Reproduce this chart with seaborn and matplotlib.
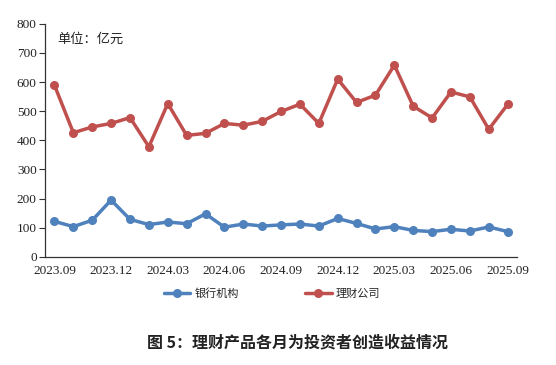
import pandas as pd
import seaborn as sns
import matplotlib.pyplot as plt

# monthly values, 2023.09 - 2025.09 (亿元)
months = ['2023.09', '2023.10', '2023.11', '2023.12', '2024.01', '2024.02', '2024.03',
          '2024.04', '2024.05', '2024.06', '2024.07', '2024.08', '2024.09', '2024.10',
          '2024.11', '2024.12', '2025.01', '2025.02', '2025.03', '2025.04', '2025.05',
          '2025.06', '2025.07', '2025.08', '2025.09']
bank = [122, 104, 126, 195, 129, 111, 120, 114, 148, 102, 113, 106, 110,
        113, 106, 132, 115, 96, 104, 91, 87, 95, 89, 103, 87]
wm_company = [589, 426, 446, 458, 478, 378, 526, 417, 424, 458, 452, 465, 499,
              524, 458, 610, 530, 555, 658, 517, 477, 566, 549, 438, 523]
series_names = ['银行机构', '理财公司']
tick_labels = months[::3]

df = pd.DataFrame({
    'idx': list(range(len(months))) * 2,
    'value': bank + wm_company,
    'series': [series_names[0]] * len(months) + [series_names[1]] * len(months),
})

sns.set_style('ticks')
plt.rcParams['font.family'] = ['Noto Sans CJK SC', 'DejaVu Sans']

fig = plt.figure(figsize=(5.56, 3.65), dpi=100)
ax = fig.add_axes([0.081, 0.296, 0.849, 0.639])

sns.lineplot(data=df, x='idx', y='value', hue='series', palette=['#4F81BD', '#C0504D'],
             marker='o', markersize=6.5, markeredgewidth=0, linewidth=2.5, ax=ax)

ax.set_xlim(-0.5, 24.5)
ax.set_ylim(0, 800)
ax.set_yticks(range(0, 801, 100))
ax.set_xticks(range(0, len(months), 3))
ax.set_xticklabels(tick_labels)
ax.set_xlabel('')
ax.set_ylabel('')
for lab in ax.get_xticklabels() + ax.get_yticklabels():
    lab.set_fontfamily('Liberation Serif')
    lab.set_fontsize(9.5)
    lab.set_color('#222222')
ax.tick_params(axis='x', length=0, pad=6)
ax.tick_params(axis='y', length=4, width=0.8, pad=2, color='#333333')
for s in ['top', 'right']:
    ax.spines[s].set_visible(False)
for s in ['left', 'bottom']:
    ax.spines[s].set_color('#333333')
    ax.spines[s].set_linewidth(0.9)

ax.text(0.025, 0.935, '单位：亿元', transform=ax.transAxes, fontsize=9.5,
        color='#222222', va='center', ha='left')

ax.legend(loc='upper center', bbox_to_anchor=(0.481, -0.09), ncol=2, frameon=False,
          fontsize=8, handlelength=2.4, columnspacing=5.9, handletextpad=0.4)

fig.text(0.535, 0.063, '图 5：理财产品各月为投资者创造收益情况', ha='center', va='center',
         fontsize=11.5, fontweight='bold', color='#222222')

fig.savefig('out.png', dpi=100)
